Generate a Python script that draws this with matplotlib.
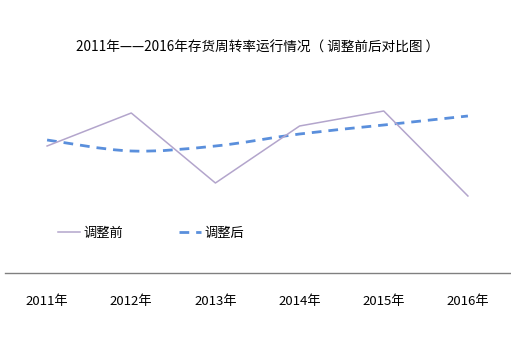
import matplotlib
matplotlib.use("Agg")
import matplotlib.pyplot as plt
from matplotlib.path import Path
from matplotlib.patches import PathPatch
from matplotlib.lines import Line2D

plt.rcParams["font.family"] = ["Noto Sans CJK SC", "DejaVu Sans"]

YEARS = ["2011年", "2012年", "2013年", "2014年", "2015年", "2016年"]
BEFORE = [6.35, 8.0, 4.5, 7.35, 8.1, 3.85]
AFTER = [6.65, 6.1, 6.35, 6.95, 7.4, 7.85]

BEFORE_COLOR = "#b3a5cc"
AFTER_COLOR = "#5a8fdc"


def smooth_path(xs, ys):
    # catmull-rom -> cubic bezier, like the office "smoothed line" option
    pts = list(zip(xs, ys))
    verts = [pts[0]]
    codes = [Path.MOVETO]
    for i in range(len(pts) - 1):
        p0 = pts[i - 1] if i > 0 else pts[i]
        p1 = pts[i]
        p2 = pts[i + 1]
        p3 = pts[i + 2] if i + 2 < len(pts) else pts[i + 1]
        c1 = (p1[0] + (p2[0] - p0[0]) / 6, p1[1] + (p2[1] - p0[1]) / 6)
        c2 = (p2[0] - (p3[0] - p1[0]) / 6, p2[1] - (p3[1] - p1[1]) / 6)
        verts += [c1, c2, p2]
        codes += [Path.CURVE4] * 3
    return Path(verts, codes)


fig = plt.figure(figsize=(5.11, 3.57), dpi=100)
ax = fig.add_axes([5 / 511, 84 / 357, 505 / 511, 193 / 357])

x = list(range(len(YEARS)))
ax.plot(x, BEFORE, color=BEFORE_COLOR, lw=1.1)
ax.add_patch(PathPatch(smooth_path(x, AFTER), fill=False, edgecolor=AFTER_COLOR,
                       lw=2.0, linestyle=(0, (3.5, 2.5))))

ax.set_xlim(-0.5, len(YEARS) - 0.5)
ax.set_ylim(0, 9.65)
ax.set_xticks(x)
ax.set_xticklabels(YEARS, fontsize=9.5)
ax.set_yticks([])
ax.tick_params(axis="x", length=0, pad=16)
for side in ["top", "left", "right"]:
    ax.spines[side].set_visible(False)
ax.spines["bottom"].set_color("#808080")
ax.spines["bottom"].set_linewidth(1.0)

fig.text(258 / 511, 1 - 48 / 357, "2011年——2016年存货周转率运行情况（ 调整前后对比图 ）",
         ha="center", va="center", fontsize=9.8)

handles = [Line2D([], [], color=BEFORE_COLOR, lw=1.1),
           Line2D([], [], color=AFTER_COLOR, lw=2.0, linestyle=(0, (3.5, 2.5)))]
fig.legend(handles, ["调整前", "调整后"], loc="center left",
           bbox_to_anchor=(46 / 511, 1 - 233 / 357), ncol=2, frameon=False,
           fontsize=9.5, handlelength=1.7, handletextpad=0.25, columnspacing=4.2)

fig.savefig("out.png", dpi=100)
